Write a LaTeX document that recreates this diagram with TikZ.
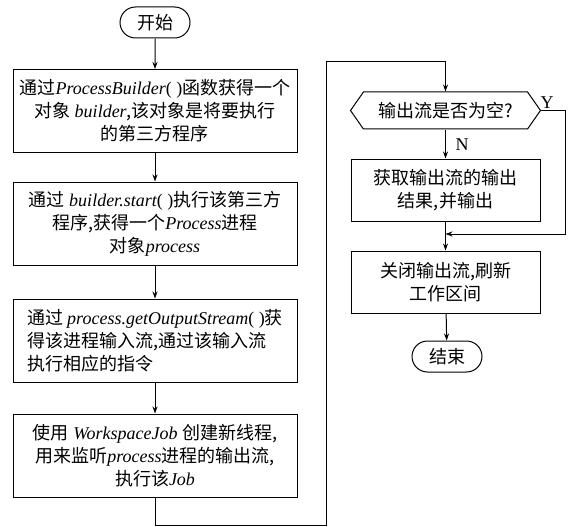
\documentclass[tikz,border=0pt]{standalone}
\usepackage{fontspec}
\setmainfont{Liberation Serif}
\newfontfamily\cjk{Noto Sans CJK SC}
\newcommand{\en}[1]{{\rmfamily\itshape #1}}
\usepackage{tikz}
\usetikzlibrary{shapes.misc,shapes.symbols,arrows.meta,positioning}
\tikzstyle{terminal}=[draw,rounded rectangle,minimum width=70pt,minimum height=31pt,inner sep=0pt,font=\cjk\fontsize{18}{23}\selectfont]
\tikzstyle{process}=[draw,rectangle,minimum height=83pt,inner sep=0pt,align=center,font=\cjk\fontsize{18}{23}\selectfont]
\tikzstyle{decision}=[draw,signal,signal to=west and east,signal pointer angle=110,minimum width=190pt,minimum height=37pt,inner sep=0pt,font=\cjk\fontsize{18}{23}\selectfont]
\tikzstyle{arrow}=[-{Stealth[length=7pt,width=5pt]}]
\tikzstyle{branch}=[font=\fontsize{18}{20}\selectfont,inner sep=0pt]

\begin{document}
\begin{tikzpicture}[x=1pt,y=-1pt,line width=1pt]
\useasboundingbox (0,0) rectangle (571,527);
\node [terminal] (start) at (155,22.5) {开始};
\node [process,minimum width=284pt] (b1) at (155,111) {通过\en{ProcessBuilder}{\rmfamily( )}函数获得一个\\对象\en{ builder},该对象是将要执行\\的第三方程序};
\node [process,minimum width=284pt] (b2) at (155,223.5) {通过\en{ builder.start}{\rmfamily( )}执行该第三方\\程序,获得一个\en{Process}进程\\对象\en{process}};
\node [process,minimum width=284pt,align=left] (b3) at (155,340.5) {通过 \en{process.getOutputStream}{\rmfamily( )}获\\得该进程输入流,通过该输入流\\执行相应的指令};
\node [process,minimum width=284pt] (b4) at (155,455.5) {使用\en{ WorkspaceJob }创建新线程,\\用来监听\en{process}进程的输出流,\\执行该\en{Job}};
\node [decision] (dec) at (445.5,110.5) {输出流是否为空?};
\node [process,minimum width=189pt,minimum height=62pt] (b5) at (445.5,190) {获取输出流的输出\\结果,并输出};
\node [process,minimum width=189pt,minimum height=62pt] (b6) at (445.5,282) {关闭输出流,刷新\\工作区间};
\node [terminal] (stop) at (447,356.5) {结束};
\node [branch] (ylab) at (547,103) {Y};
\node [branch] (nlab) at (462,145) {N};
\coordinate (c1) at (326,525);
\coordinate (c2) at (326,62);
\coordinate (c3) at (565,234);
\draw [arrow] (start) -- (b1);
\draw [arrow] (b1) -- (b2);
\draw [arrow] (b2) -- (b3);
\draw [arrow] (b3) -- (b4);
\draw [arrow] (b4.south) |- (c1) -- (c2) -| (dec.north);
\draw [arrow] (dec) -- (b5);
\draw [arrow] (dec.east) -| (c3) -- (b5.south |- c3);
\draw [arrow] (b5) -- (b6);
\draw [arrow] (b6) -- (stop);
\end{tikzpicture}
\end{document}
